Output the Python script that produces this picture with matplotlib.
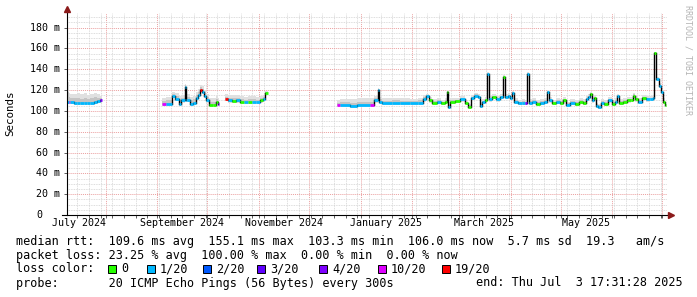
import numpy as np
import pandas as pd
import matplotlib
matplotlib.use('Agg')
import matplotlib.pyplot as plt
import matplotlib.dates as mdates
from matplotlib.patches import Rectangle
from datetime import datetime, timedelta

nan = np.nan
end_time = datetime(2025, 7, 3, 17, 31, 28)
start_time = end_time - timedelta(days=360)

# day offset from start, median rtt (ms), loss bucket, top of the smoke (ms)
# a row with nan median means "no data from this day on"
day = [0, 1, 2, 4, 6, 8, 10, 12, 14, 16, 18, 20, 21,
       57, 59.4, 63, 64.8, 67.2, 68.4, 70.8, 71.4, 72, 73.8, 75.6, 77.4, 78.6, 79.8, 81, 82.2, 83.4,
       85.2, 87.6, 89.4, 90.6, 91.2,
       94.8, 96.6, 99, 101.4, 103.8, 106.2, 108.6, 111, 113.4, 115.8, 117.6, 118.8, 120.6,
       162, 163.8, 169.8, 174, 181.8, 184.2, 186.6, 187.2, 189, 195, 199.8, 205.8, 210.6, 213.6,
       215.4, 217.2, 219, 222, 224.4, 226.8, 228, 228.6, 229.8, 232.8, 235.8, 238.8, 240.6, 242.4,
       244.2, 246.6, 247.8, 249, 250.8, 252, 253.2, 255, 257.4, 259.8, 261.6, 262.8, 264.6, 265.8,
       267, 268.2, 270.6, 273, 274.8, 276, 277.2, 279, 281.4, 283.8, 286.2, 288, 289.2, 291,
       293.4, 295.8, 297.6, 299.4, 301.8, 304.8, 307.2, 309.6, 311.4, 312.6, 313.8, 315, 316.2,
       317.4, 318.6, 320.4, 322.2, 324.6, 327, 328.8, 330, 331.2, 333.6, 336, 338.4, 339.6, 340.8,
       342.6, 345, 347.4, 349.8, 351.6, 352.2, 353.4, 355.2, 356.4, 357.6, 358.8, 359.4]

median = [109, 109, 108.5, 108, 108, 107.5, 108, 107.5, 108, 109, 109.5, 110, nan,
          107, 107, 114, 111.5, 107, 110, 123, 110.5, 110.5, 107, 108, 112, 115, 120, 118, 114, 110,
          106, 106, 109, 107, nan,
          111.5, 110, 109.5, 110, 109, 108.5, 109, 108.5, 108.5, 110, 111, 117, nan,
          105.5, 105.5, 105, 106, 106, 110, 120, 109, 107.5, 108, 107.5, 107.5, 108, 111,
          114, 110, 108, 109, 107.5, 109, 118.5, 104, 109, 109.5, 111, 107.5, 104, 112,
          114.5, 113, 105, 108.5, 110, 135.5, 111, 113, 111, 113, 132.5, 113, 114, 112,
          117, 109, 107.5, 108, 107.5, 135.5, 108, 109, 107, 108, 109, 118.5, 110, 107.5,
          109, 108, 110, 106, 108, 106.5, 109, 108, 111, 113, 116, 110, 112,
          105, 104, 108, 107, 110, 107, 109, 114, 108, 109, 110, 110.5, 114.5, 111,
          109, 112, 111, 111.5, 112, 156, 130.5, 124, 118, 109, 105.5, nan]

loss = [1, 5, 1, 1, 1, 1, 1, 1, 1, 1, 1, 4, -1,
        5, 1, 1, 1, 1, 1, 1, 1, 1, 1, 1, 1, 1, 6, 1, 1, 1,
        0, 0, 0, 4, -1,
        6, 1, 0, 1, 0, 1, 0, 1, 1, 0, 1, 0, -1,
        5, 1, 1, 1, 5, 1, 1, 1, 1, 1, 1, 1, 1, 1,
        1, 0, 0, 1, 0, 0, 0, 1, 0, 0, 1, 0, 0, 1,
        1, 1, 1, 1, 0, 1, 1, 0, 1, 1, 0, 1, 1, 1,
        1, 1, 1, 1, 4, 1, 1, 1, 0, 1, 1, 1, 1, 0,
        1, 0, 0, 1, 1, 0, 0, 0, 1, 1, 0, 1, 0,
        1, 1, 1, 0, 1, 0, 1, 1, 0, 0, 0, 0, 0, 0,
        1, 0, 1, 1, 1, 0, 1, 1, 1, 0, 0, -1]

smoke_hi = [128, 117, 116, 116, 117, 116, 117, 115, 116, 117, 116, 114, nan,
            112, 113, 118, 117, 114, 115, 126, 116, 116, 113, 114, 118, 121, 125, 124, 120, 116,
            112, 112, 114, 112, nan,
            116, 115, 115, 115, 114, 113, 114, 114, 113, 114, 115, 119, nan,
            110, 111, 111, 112, 112, 114, 122, 113, 112, 112, 112, 111, 112, 115,
            116, 113, 111, 112, 110, 112, 120, 107, 112, 112, 114, 110, 107, 115,
            117, 116, 108, 111, 113, 137, 114, 116, 114, 116, 134, 116, 117, 115,
            119, 112, 110, 111, 110, 137, 111, 112, 110, 111, 112, 120, 113, 110,
            112, 111, 113, 109, 111, 110, 112, 111, 114, 116, 118, 113, 115,
            108, 107, 111, 110, 113, 110, 112, 116, 111, 112, 113, 113, 117, 114,
            112, 115, 114, 114, 115, 157, 133, 127, 121, 112, 108, nan]

loss_colors = ['#26ff00', '#00b8ff', '#0059ff', '#5e00ff', '#7e00ff', '#dd00ff', '#ff0000']
loss_labels = ['0', '1/20', '2/20', '3/20', '4/20', '10/20', '19/20']
month_labels = ['July 2024', 'September 2024', 'November 2024',
                'January 2025', 'March 2025', 'May 2025']
month_label_dates = [datetime(2024, 7, 16), datetime(2024, 9, 16), datetime(2024, 11, 16),
                     datetime(2025, 1, 16), datetime(2025, 3, 16), datetime(2025, 5, 16)]
ytick_values = list(range(0, 200, 20))

df = pd.DataFrame({'day': day, 'median': median, 'loss': loss, 'hi': smoke_hi})
df['t'] = mdates.date2num([start_time + timedelta(days=d) for d in df['day']])

W, H = 697, 297
mono = 'DejaVu Sans Mono'
fig = plt.figure(figsize=(W / 100, H / 100), dpi=100)
fig.patch.set_facecolor('white')
ax = fig.add_axes([67 / W, 82 / H, 600 / W, 202 / H])

t0 = mdates.date2num(start_time)
t1 = mdates.date2num(end_time)
ax.set_xlim(t0, t1)
ax.set_ylim(0, 194)

# grid
ax.xaxis.set_major_locator(mdates.MonthLocator())
ax.xaxis.set_minor_locator(mdates.WeekdayLocator(byweekday=mdates.MO))
ax.set_yticks(ytick_values)
ax.set_yticks(np.arange(0, 195, 5), minor=True)
ax.grid(which='minor', color='#d2d2d2', linestyle=(0, (1, 1)), linewidth=0.6)
ax.grid(which='major', color='#eba0a0', linestyle=(0, (1, 1)), linewidth=0.7)
ax.set_axisbelow(True)
ax.set_xticklabels([])
ax.set_yticklabels([])
ax.tick_params(axis='x', which='both', direction='out', length=2, width=0.6, color='#444444')
ax.tick_params(axis='y', which='major', direction='out', length=2, width=0.6, color='#444444')
ax.tick_params(axis='y', which='minor', length=0)
for s in ['top', 'right', 'left', 'bottom']:
    ax.spines[s].set_visible(False)

# smoke + median
rows = df.to_dict('records')
for i in range(len(rows) - 1):
    r = rows[i]
    if np.isnan(r['median']):
        continue
    x0, x1 = r['t'], rows[i + 1]['t']
    m, hi = r['median'], r['hi']
    ax.fill_between([x0, x1], [m - 2, m - 2], [hi, hi], color='#e0e0e0', lw=0)
    ax.fill_between([x0, x1], [m - 1, m - 1], [(m + hi) / 2] * 2, color='#c4c4c4', lw=0)
for i in range(len(rows) - 1):
    r, nx = rows[i], rows[i + 1]
    if np.isnan(r['median']):
        continue
    ax.plot([r['t'], nx['t']], [r['median']] * 2, color=loss_colors[int(r['loss'])],
            lw=2.0, solid_capstyle='butt', zorder=4)
    if not np.isnan(nx['median']):
        ax.plot([nx['t'], nx['t']], [r['median'], nx['median']], color='black', lw=1, zorder=3)

# axes with arrows
ax.plot([0, 0], [0, 1.02], transform=ax.transAxes, color='black', lw=0.8, clip_on=False, zorder=5)
ax.plot([-0.008, 1.005], [0, 0], transform=ax.transAxes, color='black', lw=0.8, clip_on=False, zorder=5)
ax.plot([0], [1.02], transform=ax.transAxes, marker='^', ms=4, color='#8b1a1a', clip_on=False, zorder=6)
ax.plot([1.006], [0], transform=ax.transAxes, marker='>', ms=4, color='#8b1a1a', clip_on=False, zorder=6)

# tick labels
ytrans = ax.get_yaxis_transform()
for v in ytick_values:
    if v == 0:
        ax.text(-0.051, v, '0', transform=ytrans, ha='left', va='center', fontsize=7.2, family=mono)
    else:
        ax.text(-0.0117, v, f'{v} m', transform=ytrans, ha='right', va='center', fontsize=7.2, family=mono)
xtrans = ax.get_xaxis_transform()
for lab, d in zip(month_labels, month_label_dates):
    ax.text(mdates.date2num(d), -0.015, lab, transform=xtrans, ha='center', va='top', fontsize=7.2, family=mono)

fig.text(10 / W, 1 - 113 / H, 'Seconds', rotation=90, ha='center', va='center', fontsize=7.8, family=mono)
fig.text(688 / W, 1 - 5 / H, 'RRDTOOL / TOBI OETIKER', rotation=270, ha='center', va='top',
         fontsize=6, family=mono, color='#b4b4b4')


def line(x, y, s):
    fig.text(x / W, 1 - y / H, s, ha='left', va='center', fontsize=8.5, family=mono)


line(16, 241, 'median rtt:  109.6 ms avg  155.1 ms max  103.3 ms min  106.0 ms now  5.7 ms sd  19.3   am/s')
line(16, 255, 'packet loss: 23.25 % avg  100.00 % max  0.00 % min  0.00 % now')
line(16, 269, 'loss color:')
box_x = [108, 147, 203, 257, 319, 378, 442]
for bx, c, lab in zip(box_x, loss_colors, loss_labels):
    fig.patches.append(Rectangle((bx / W, 1 - 273 / H), 8 / W, 8 / H, transform=fig.transFigure,
                                 facecolor=c, edgecolor='black', lw=0.7))
    line(bx + 13, 269, lab)
line(16, 283, 'probe:       20 ICMP Echo Pings (56 Bytes) every 300s')
fig.text(683 / W, 1 - 283 / H, 'end: Thu Jul  3 17:31:28 2025', ha='right', va='center',
         fontsize=8.5, family=mono)

fig.savefig('out.png', dpi=100, facecolor='white')
